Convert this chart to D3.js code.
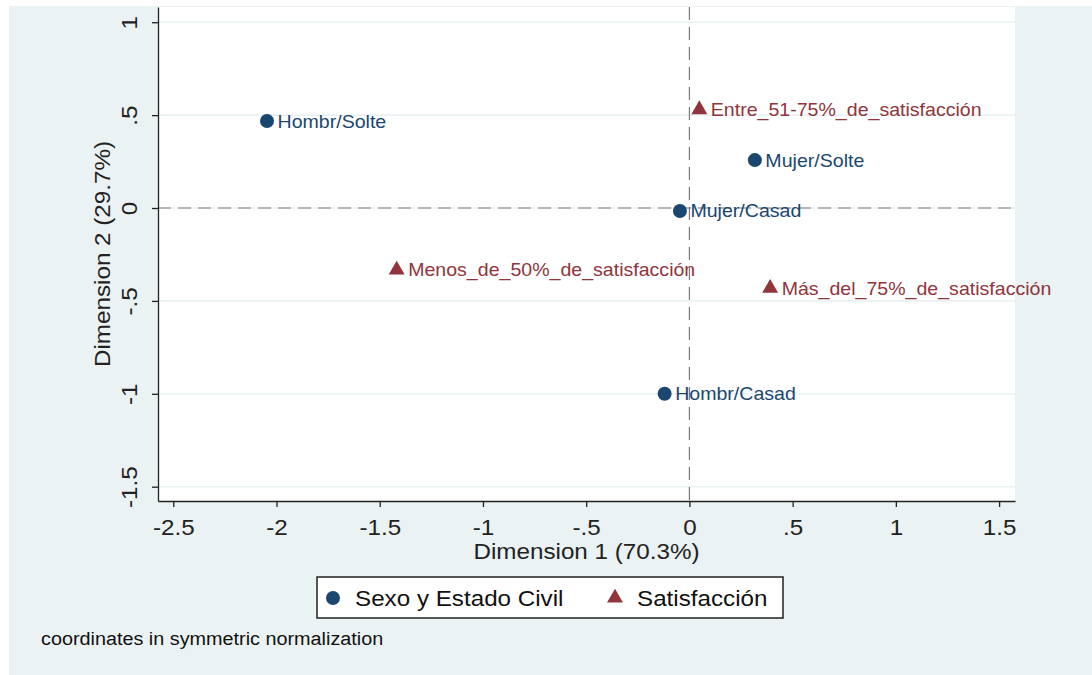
<!DOCTYPE html>
<html>
<head>
<meta charset="utf-8">
<script src="https://cdn.jsdelivr.net/npm/d3@7"></script>
<style>
body { margin: 0; background: #fff; }
text { font-family: "Liberation Sans", Arial, sans-serif; }
</style>
</head>
<body>
<svg width="1092" height="675"></svg>
<script>
// Datos: coordenadas (normalizacion simetrica)
const seriesNames = ["Sexo y Estado Civil", "Satisfacción"];

const rowLabels = ["Hombr/Solte", "Hombr/Casad", "Mujer/Solte", "Mujer/Casad"];
const rowDim1 = [-2.046, -0.120, 0.317, -0.046];
const rowDim2 = [0.468, -1.000, 0.258, -0.016];

const colLabels = ["Menos_de_50%_de_satisfacción", "Entre_51-75%_de_satisfacción", "Más_del_75%_de_satisfacción"];
const colDim1 = [-1.418, 0.048, 0.391];
const colDim2 = [-0.333, 0.530, -0.431];

const xTicks = [-2.5, -2, -1.5, -1, -0.5, 0, 0.5, 1, 1.5];
const yTicks = [-1.5, -1, -0.5, 0, 0.5, 1];

const xTitle = "Dimension 1 (70.3%)";
const yTitle = "Dimension 2 (29.7%)";
const note = "coordinates in symmetric normalization";

// Preparacion

const svg = d3.select("svg"),
	plot = { left: 158, right: 1015, top: 7, bottom: 501 };

const navy = "#1a476f", maroon = "#90353b", bg = "#eaf2f3", ink = "#222";

const rows = rowLabels.map((label, i) => ({ label, x: rowDim1[i], y: rowDim2[i] }));
const cols = colLabels.map((label, i) => ({ label, x: colDim1[i], y: colDim2[i] }));

// formato estilo Stata: ".5" en vez de "0.5"
const stataFmt = v => d3.format("")(v).replace("−", "-").replace(/^(-?)0\./, "$1.");

// Escalas

const x = d3.scaleLinear()
	.domain([-2.574, 1.577])
	.range([plot.left, plot.right]);

const y = d3.scaleLinear()
	.domain([-1.577, 1.082])
	.range([plot.bottom, plot.top]);

// Fondo

svg.append("rect")
	.attr("x", 9).attr("y", 6)
	.attr("width", 1083).attr("height", 669)
	.attr("fill", bg);

svg.append("rect")
	.attr("x", plot.left).attr("y", plot.top)
	.attr("width", plot.right - plot.left).attr("height", plot.bottom - plot.top)
	.attr("fill", "#fff");

// Rejilla horizontal

svg.append("g")
	.selectAll("line")
	.data(yTicks)
	.join("line")
	.attr("x1", plot.left).attr("x2", plot.right)
	.attr("y1", d => y(d)).attr("y2", d => y(d))
	.attr("stroke", bg)
	.attr("stroke-width", 1.6);

// Lineas de referencia en 0

svg.append("line")
	.attr("x1", plot.left).attr("x2", plot.right)
	.attr("y1", y(0)).attr("y2", y(0))
	.attr("stroke", "#7a7a7a").attr("stroke-width", 1.2)
	.attr("stroke-dasharray", "13,7");

svg.append("line")
	.attr("x1", x(0)).attr("x2", x(0))
	.attr("y1", plot.top).attr("y2", plot.bottom)
	.attr("stroke", "#7a7a7a").attr("stroke-width", 1.2)
	.attr("stroke-dasharray", "13,7");

// Ejes

const xAxis = g => g
	.attr("transform", `translate(0,${plot.bottom})`)
	.call(d3.axisBottom(x).tickValues(xTicks).tickFormat(stataFmt).tickSize(6).tickSizeOuter(0))
	.call(g => g.attr("font-family", null).attr("font-size", 22))
	.call(g => g.selectAll("path, line").attr("stroke", ink).attr("stroke-width", 1.3))
	.call(g => g.selectAll("text").attr("fill", ink).attr("dy", null).attr("y", 34));

const yAxis = g => g
	.attr("transform", `translate(${plot.left},0)`)
	.call(d3.axisLeft(y).tickValues(yTicks).tickFormat(stataFmt).tickSize(6).tickSizeOuter(0))
	.call(g => g.attr("font-family", null).attr("font-size", 22))
	.call(g => g.selectAll("path, line").attr("stroke", ink).attr("stroke-width", 1.3))
	.call(g => g.selectAll("text")
		.attr("fill", ink)
		.attr("x", null).attr("dy", null)
		.attr("text-anchor", "middle")
		.attr("transform", "translate(-21,0) rotate(-90)"));

svg.append("g").call(xAxis);
svg.append("g").call(yAxis);

// Titulos de ejes

svg.append("text")
	.attr("x", (plot.left + plot.right) / 2)
	.attr("y", 559)
	.attr("text-anchor", "middle")
	.attr("font-size", 22)
	.attr("fill", ink)
	.text(xTitle);

svg.append("text")
	.attr("transform", `translate(110,${(plot.top + plot.bottom) / 2}) rotate(-90)`)
	.attr("text-anchor", "middle")
	.attr("font-size", 22)
	.attr("fill", ink)
	.text(yTitle);

// Puntos

const tri = d3.symbol(d3.symbolTriangle, 110);

const rowG = svg.append("g")
	.selectAll("g")
	.data(rows)
	.join("g")
	.attr("transform", d => `translate(${x(d.x)},${y(d.y)})`);

rowG.append("circle")
	.attr("r", 7)
	.attr("fill", navy);

rowG.append("text")
	.attr("x", 10.5)
	.attr("y", 6.5)
	.attr("font-size", 17.8)
	.attr("fill", navy)
	.text(d => d.label);

const colG = svg.append("g")
	.selectAll("g")
	.data(cols)
	.join("g")
	.attr("transform", d => `translate(${x(d.x)},${y(d.y)})`);

colG.append("path")
	.attr("d", tri)
	.attr("fill", maroon);

colG.append("text")
	.attr("x", 11.5)
	.attr("y", 6.5)
	.attr("font-size", 17.8)
	.attr("fill", maroon)
	.text(d => d.label);

// Leyenda

const legend = svg.append("g").attr("transform", "translate(317,577)");

legend.append("rect")
	.attr("width", 466).attr("height", 41)
	.attr("fill", "#fff")
	.attr("stroke", ink).attr("stroke-width", 1.5);

const legendX = [16, 298];
const legendColor = [navy, maroon];

const items = legend.selectAll("g")
	.data(seriesNames)
	.join("g")
	.attr("transform", (d, i) => `translate(${legendX[i]},21)`);

items.each(function (d, i) {
	const g = d3.select(this);
	if (i === 0) g.append("circle").attr("r", 7).attr("fill", legendColor[i]);
	else g.append("path").attr("d", tri).attr("fill", legendColor[i]);
});

items.append("text")
	.attr("x", 22)
	.attr("y", 8)
	.attr("font-size", 22)
	.attr("fill", "#111")
	.text(d => d);

// Nota

svg.append("text")
	.attr("x", 41)
	.attr("y", 645)
	.attr("font-size", 18)
	.attr("fill", "#111")
	.text(note);

// el original esta algo ensanchado en horizontal
svg.selectAll("text").each(function () {
	const w = this.getComputedTextLength();
	d3.select(this).attr("textLength", w * 1.1).attr("lengthAdjust", "spacingAndGlyphs");
});
</script>
</body>
</html>
